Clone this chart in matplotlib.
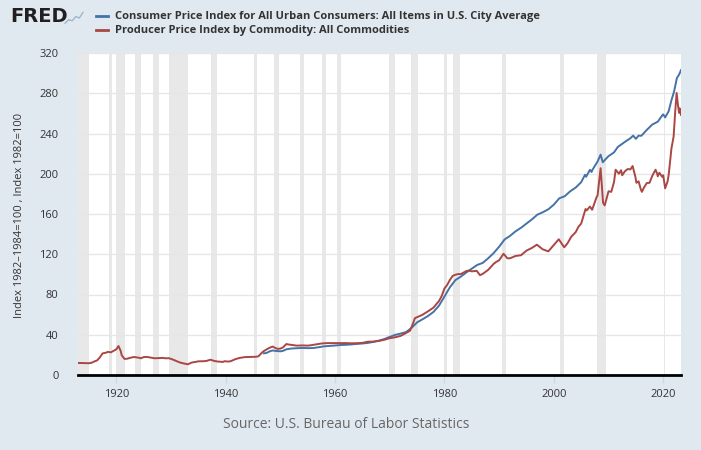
import matplotlib
matplotlib.use("Agg")
import matplotlib.pyplot as plt
from matplotlib.lines import Line2D

plt.rcParams['font.family'] = ['Open Sans', 'DejaVu Sans']

# Producer Price Index by Commodity: All Commodities (1982=100)
ppi_year = [1913.0, 1914.0, 1915.0, 1915.5, 1916.0, 1916.5, 1917.0, 1917.5, 1918.0, 1918.5,
            1919.0, 1919.5, 1920.0, 1920.4, 1920.8, 1921.0, 1921.5, 1922.0, 1922.5, 1923.2,
            1924.0, 1924.5, 1925.0, 1925.5, 1926.0, 1927.0, 1928.0, 1928.5, 1929.0, 1929.6,
            1930.0, 1930.5, 1931.0, 1931.5, 1932.0, 1932.5, 1933.1, 1933.6, 1934.0, 1934.5,
            1935.0, 1936.0, 1936.5, 1937.2, 1937.9, 1938.5, 1939.5, 1939.8, 1940.5, 1941.0,
            1941.8, 1942.5, 1943.5, 1944.5, 1945.5, 1946.0, 1946.5, 1946.9, 1947.5, 1948.0,
            1948.6, 1949.0, 1949.5, 1950.0, 1950.5, 1951.1, 1951.5, 1952.0, 1952.5, 1953.0,
            1954.0, 1955.0, 1955.5, 1956.5, 1957.5, 1958.5, 1960.0, 1961.0, 1962.0, 1963.0,
            1964.0, 1965.0, 1966.0, 1967.0, 1968.0, 1969.0, 1970.0, 1971.0, 1972.0, 1973.0,
            1973.7, 1974.2, 1974.6, 1975.0, 1975.5, 1976.0, 1977.0, 1978.0, 1979.0, 1979.5,
            1980.0, 1980.5, 1981.0, 1981.5, 1982.0, 1982.5, 1983.0, 1984.0, 1984.5, 1985.0,
            1985.9, 1986.5, 1987.0, 1988.0, 1989.0, 1989.5, 1990.0, 1990.8, 1991.5, 1992.0,
            1993.0, 1994.0, 1995.0, 1996.0, 1996.9, 1998.0, 1999.0, 2000.0, 2000.9, 2001.9,
            2002.5, 2003.2, 2004.0, 2004.5, 2005.0, 2005.8, 2006.0, 2006.6, 2007.0, 2007.8,
            2008.0, 2008.55, 2009.0, 2009.3, 2010.0, 2010.5, 2011.0, 2011.3, 2011.9, 2012.3,
            2012.5, 2013.0, 2013.5, 2014.0, 2014.4, 2014.9, 2015.1, 2015.5, 2015.9, 2016.1,
            2016.5, 2017.0, 2017.5, 2018.0, 2018.6, 2018.9, 2019.0, 2019.3, 2019.8, 2020.0,
            2020.35, 2020.8, 2021.0, 2021.5, 2021.9, 2022.2, 2022.45, 2022.7, 2022.9, 2023.0,
            2023.25]
ppi_value = [12.0, 11.8, 11.7, 12.2, 13.5, 14.5, 17.5, 21.5, 22.0, 23.0,
             22.5, 24.0, 25.5, 28.8, 24.0, 19.5, 16.0, 16.2, 17.0, 17.9,
             17.3, 16.6, 17.8, 18.0, 17.6, 16.6, 16.8, 17.0, 16.6, 16.7,
             16.0, 15.0, 13.8, 12.7, 11.9, 11.3, 10.6, 12.0, 12.6, 13.0,
             13.6, 13.7, 14.0, 15.2, 14.0, 13.4, 13.0, 13.7, 13.3, 13.9,
             15.8, 16.9, 17.8, 17.9, 18.1, 18.6, 21.5, 23.5, 25.5, 27.0,
             28.3, 27.0, 26.0, 26.2, 27.5, 30.8, 30.3, 29.9, 29.6, 29.2,
             29.4, 29.2, 29.5, 30.4, 31.3, 31.7, 31.7, 31.6, 31.7, 31.5,
             31.6, 31.9, 33.1, 33.2, 33.9, 35.0, 36.6, 37.5, 38.9, 41.8,
             44.0, 50.5, 56.5, 57.5, 58.6, 59.9, 63.3, 67.0, 73.5, 78.5,
             86.0, 89.5, 94.5, 98.5, 99.6, 100.3, 100.3, 103.3, 103.8, 103.0,
             103.5, 99.2, 100.5, 104.5, 110.5, 112.5, 114.0, 120.5, 116.0, 116.0,
             118.3, 119.0, 123.6, 126.3, 129.5, 124.8, 122.9, 129.2, 134.9, 126.9,
             130.9, 137.5, 142.0, 147.3, 150.5, 165.0, 163.5, 167.4, 164.2, 176.5,
             178.7, 205.5, 171.2, 168.5, 182.6, 182.0, 191.7, 204.0, 200.0, 203.5,
             198.5, 202.5, 204.7, 204.3, 207.7, 197.2, 191.0, 192.5, 184.5, 182.0,
             186.5, 190.8, 191.0, 198.0, 204.0, 200.0, 197.5, 201.0, 197.0, 198.5,
             185.5, 192.5, 199.0, 225.0, 237.0, 262.5, 280.3, 268.0, 260.5, 265.0,
             258.5]

# Consumer Price Index for All Urban Consumers: All Items (1982-1984=100)
cpi_year = [1947.0, 1947.5, 1948.0, 1948.6, 1949.0, 1949.5, 1950.0, 1950.5, 1951.0, 1951.5,
            1952.0, 1953.0, 1954.0, 1955.0, 1956.0, 1957.0, 1958.0, 1959.0, 1960.0, 1961.0,
            1962.0, 1963.0, 1964.0, 1965.0, 1966.0, 1967.0, 1968.0, 1969.0, 1970.0, 1971.0,
            1972.0, 1973.0, 1974.0, 1975.0, 1976.0, 1977.0, 1978.0, 1979.0, 1980.0, 1981.0,
            1982.0, 1983.0, 1984.0, 1985.0, 1986.0, 1987.0, 1988.0, 1989.0, 1990.0, 1991.0,
            1992.0, 1993.0, 1994.0, 1995.0, 1996.0, 1997.0, 1998.0, 1999.0, 2000.0, 2001.0,
            2002.0, 2003.0, 2004.0, 2005.0, 2005.7, 2005.9, 2006.6, 2006.9, 2007.0, 2008.0,
            2008.55, 2008.95, 2009.5, 2010.0, 2011.0, 2011.7, 2012.0, 2013.0, 2014.0, 2014.5,
            2015.0, 2015.5, 2016.0, 2017.0, 2018.0, 2019.0, 2019.9, 2020.0, 2020.35, 2020.8,
            2021.0, 2021.5, 2022.0, 2022.5, 2022.9, 2023.25]
cpi_value = [21.5, 22.0, 23.4, 24.4, 24.0, 23.8, 23.5, 24.0, 25.4, 25.9,
             26.3, 26.6, 26.9, 26.7, 26.8, 27.6, 28.5, 28.9, 29.3, 29.8,
             30.0, 30.4, 30.9, 31.3, 31.9, 32.9, 34.1, 35.7, 37.9, 39.9,
             41.2, 42.7, 46.9, 52.3, 55.4, 58.7, 62.7, 68.9, 78.0, 87.2,
             94.3, 97.8, 101.9, 105.7, 109.4, 111.4, 116.0, 121.2, 127.5, 134.7,
             138.3, 142.8, 146.3, 150.5, 154.7, 159.4, 161.8, 164.7, 169.3, 175.6,
             177.7, 182.6, 186.3, 191.6, 199.0, 197.0, 203.9, 201.8, 203.4, 212.2,
             219.0, 211.4, 214.7, 217.5, 221.2, 226.6, 227.8, 231.7, 235.3, 237.9,
             234.7, 237.9, 237.7, 243.6, 248.9, 251.7, 258.6, 259.0, 256.0, 260.3,
             262.2, 273.0, 282.0, 295.2, 298.5, 303.0]

# NBER recession periods (start, end) in decimal years
recessions = [(1913.0, 1914.95), (1918.6, 1919.25), (1920.0, 1921.55), (1923.35, 1924.55),
              (1926.8, 1927.9), (1929.6, 1933.2), (1937.35, 1938.45), (1945.1, 1945.8),
              (1948.85, 1949.8), (1953.5, 1954.4), (1957.6, 1958.3), (1960.3, 1961.1),
              (1969.9, 1970.9), (1973.85, 1975.2), (1980.0, 1980.5), (1981.5, 1982.9),
              (1990.5, 1991.2), (2001.2, 2001.9), (2007.9, 2009.5), (2020.1, 2020.35)]

cpi_label = "Consumer Price Index for All Urban Consumers: All Items in U.S. City Average"
ppi_label = "Producer Price Index by Commodity: All Commodities"
cpi_color = "#4572a7"
ppi_color = "#aa4643"
bg = "#e1e9f0"

fig = plt.figure(figsize=(7.01, 4.50), dpi=100, facecolor=bg)
ax = fig.add_axes([78 / 701, 75 / 450, 603 / 701, 322 / 450])
ax.set_facecolor("white")

for start, end in recessions:
    ax.axvspan(start, end, color="#e8e8e8", lw=0, zorder=1)

ax.plot(cpi_year, cpi_value, color=cpi_color, lw=1.4, zorder=3)
ax.plot(ppi_year, ppi_value, color=ppi_color, lw=1.4, zorder=4)

ax.set_xlim(1913.0, 2023.25)
ax.set_ylim(0, 320)
ax.set_yticks(range(0, 321, 40))
ax.set_xticks(range(1920, 2021, 20))
# grid lines sit over the recession shading
for v in range(40, 321, 40):
    ax.axhline(v, color="#e6e6e6", lw=1, zorder=2)

for side in ["top", "right", "left"]:
    ax.spines[side].set_visible(False)
ax.spines["bottom"].set_color("black")
ax.spines["bottom"].set_linewidth(2)
ax.spines["bottom"].set_zorder(5)

ax.tick_params(axis="y", length=0, pad=14, labelsize=8, labelcolor="#333333")
ax.tick_params(axis="x", length=6, color="#ccd6eb", width=1, pad=4,
               labelsize=8, labelcolor="#333333")

fig.text(20 / 701, 1 - 215 / 450, "Index 1982\u20131984=100 , Index 1982=100",
         rotation=90, ha="center", va="center", fontsize=8, color="#333333")

fig.text(346 / 701, 1 - 425 / 450, "Source: U.S. Bureau of Labor Statistics",
         ha="center", va="center", fontsize=10, color="#666666")

# header: FRED logo and legend
fig.text(10 / 701, 1 - 17 / 450, "FRED", ha="left", va="center", fontsize=14,
         fontweight="heavy", color="#231f20", family=["DejaVu Sans"])
icon = fig.add_axes([64 / 701, 1 - 25 / 450, 20 / 701, 14 / 450])
icon.plot([0, 1, 2, 3, 4, 5], [0.5, 1.5, 1.2, 2.4, 2.0, 3.6], color="#9fb6c9", lw=1)
icon.set_xlim(-0.3, 5.3)
icon.set_ylim(0, 4)
icon.axis("off")

for i, (label, color) in enumerate([(cpi_label, cpi_color), (ppi_label, ppi_color)]):
    y = 1 - (16 + i * 14) / 450
    fig.add_artist(Line2D([96 / 701, 108 / 701], [y, y], color=color, lw=2))
    fig.text(115 / 701, y, label, ha="left", va="center", fontsize=8,
             fontweight="bold", color="#333333")

fig.savefig("out.png", dpi=100, facecolor=bg)
